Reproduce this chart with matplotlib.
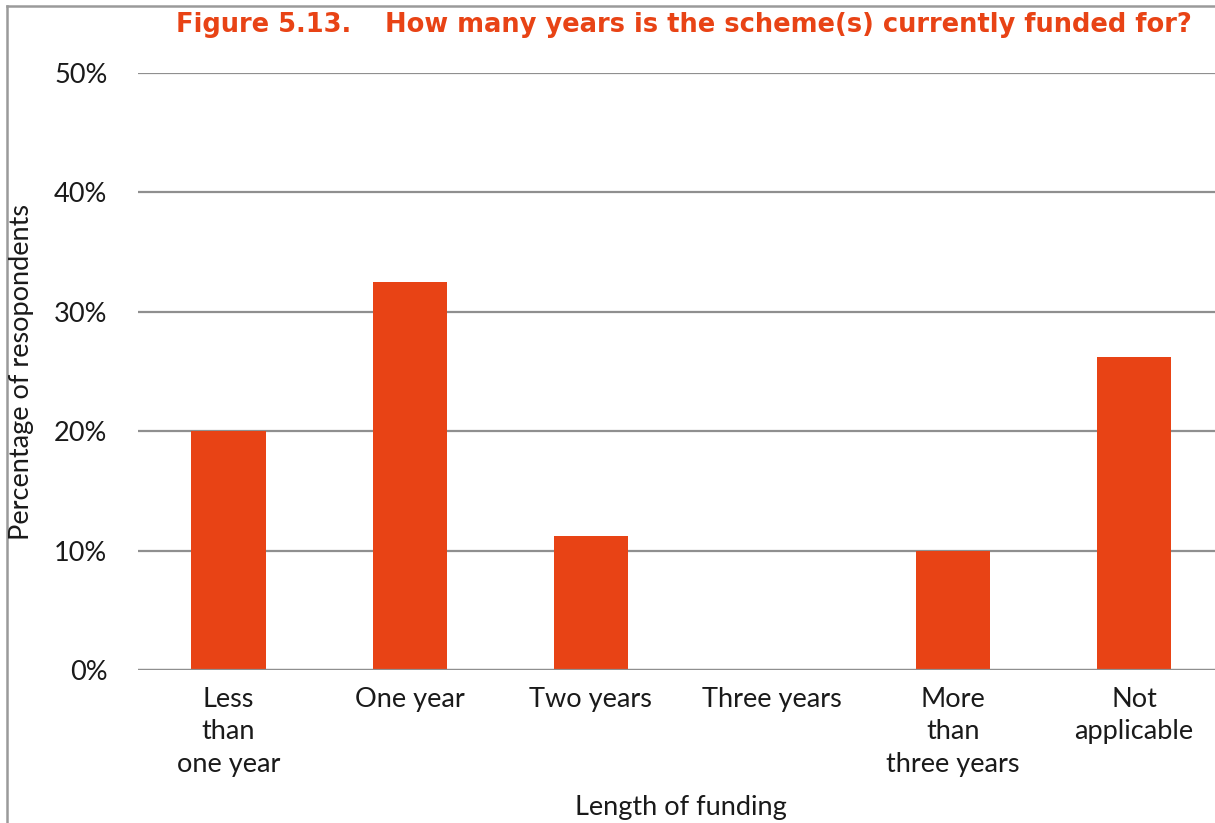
import numpy as np
from matplotlib import pyplot as plt
from matplotlib.lines import Line2D
import matplotlib.ticker as ticker

# survey answers (share of respondents)
categories = ["Less\nthan\none year", "One year", "Two years", "Three years",
              "More\nthan\nthree years", "Not\napplicable"]
shares = [0.20, 0.325, 0.112, 0.0, 0.10, 0.262]
y_ticks = [0.0, 0.1, 0.2, 0.3, 0.4, 0.5]

orange = "#E84315"
grid_grey = "#8f8f8f"
text_col = "#1a1a1a"
fs = 19.5

plt.rcParams['font.family'] = ['Lato', 'DejaVu Sans']

fig = plt.figure(figsize=(12.15, 8.23), dpi=100)
ax = fig.add_axes([138 / 1215, 1 - 670 / 823, 1086.5 / 1215, 597 / 823])

x = np.arange(len(categories))
ax.bar(x, shares, width=0.41, color=orange, zorder=3)

ax.set_xlim(-0.5, len(categories) - 0.5)
ax.set_ylim(0, 0.5)
ax.set_yticks(y_ticks)
ax.yaxis.set_major_formatter(ticker.PercentFormatter(1.0, decimals=0))
ax.set_xticks(x)
ax.set_xticklabels(categories, linespacing=1.38)
ax.tick_params(axis='y', length=0, pad=22, labelsize=fs, colors=text_col)
ax.tick_params(axis='x', length=0, pad=12, labelsize=fs, colors=text_col)
ax.grid(axis='y', color=grid_grey, linewidth=1.6, zorder=0)
for s in ["top", "right", "left", "bottom"]:
    ax.spines[s].set_visible(False)
ax.axhline(0, color=grid_grey, linewidth=1.6, zorder=4)

fig.text(681 / 1215, 1 - 808 / 823, "Length of funding", fontsize=fs,
         color=text_col, ha='center', va='center')
fig.text(22 / 1215, 1 - 372 / 823, "Percentage of resopondents", fontsize=fs,
         color=text_col, ha='center', va='center', rotation=90)

fig.text(176 / 1215, 1 - 25 / 823, "Figure 5.13.", color=orange,
         fontsize=18.5, fontweight='bold', va='center', family='DejaVu Sans')
fig.text(385 / 1215, 1 - 25 / 823,
         "How many years is the scheme(s) currently funded for?",
         color=orange, fontsize=18.5, fontweight='bold', va='center',
         family='DejaVu Sans')

# grey frame at top and left of the page
fig.add_artist(Line2D([7 / 1215, 1], [1 - 6 / 823, 1 - 6 / 823],
                      transform=fig.transFigure, color='#9a9a9a', linewidth=1.8))
fig.add_artist(Line2D([7 / 1215, 7 / 1215], [0, 1 - 6 / 823],
                      transform=fig.transFigure, color='#9a9a9a', linewidth=1.8))

fig.savefig("out.png", dpi=100)
